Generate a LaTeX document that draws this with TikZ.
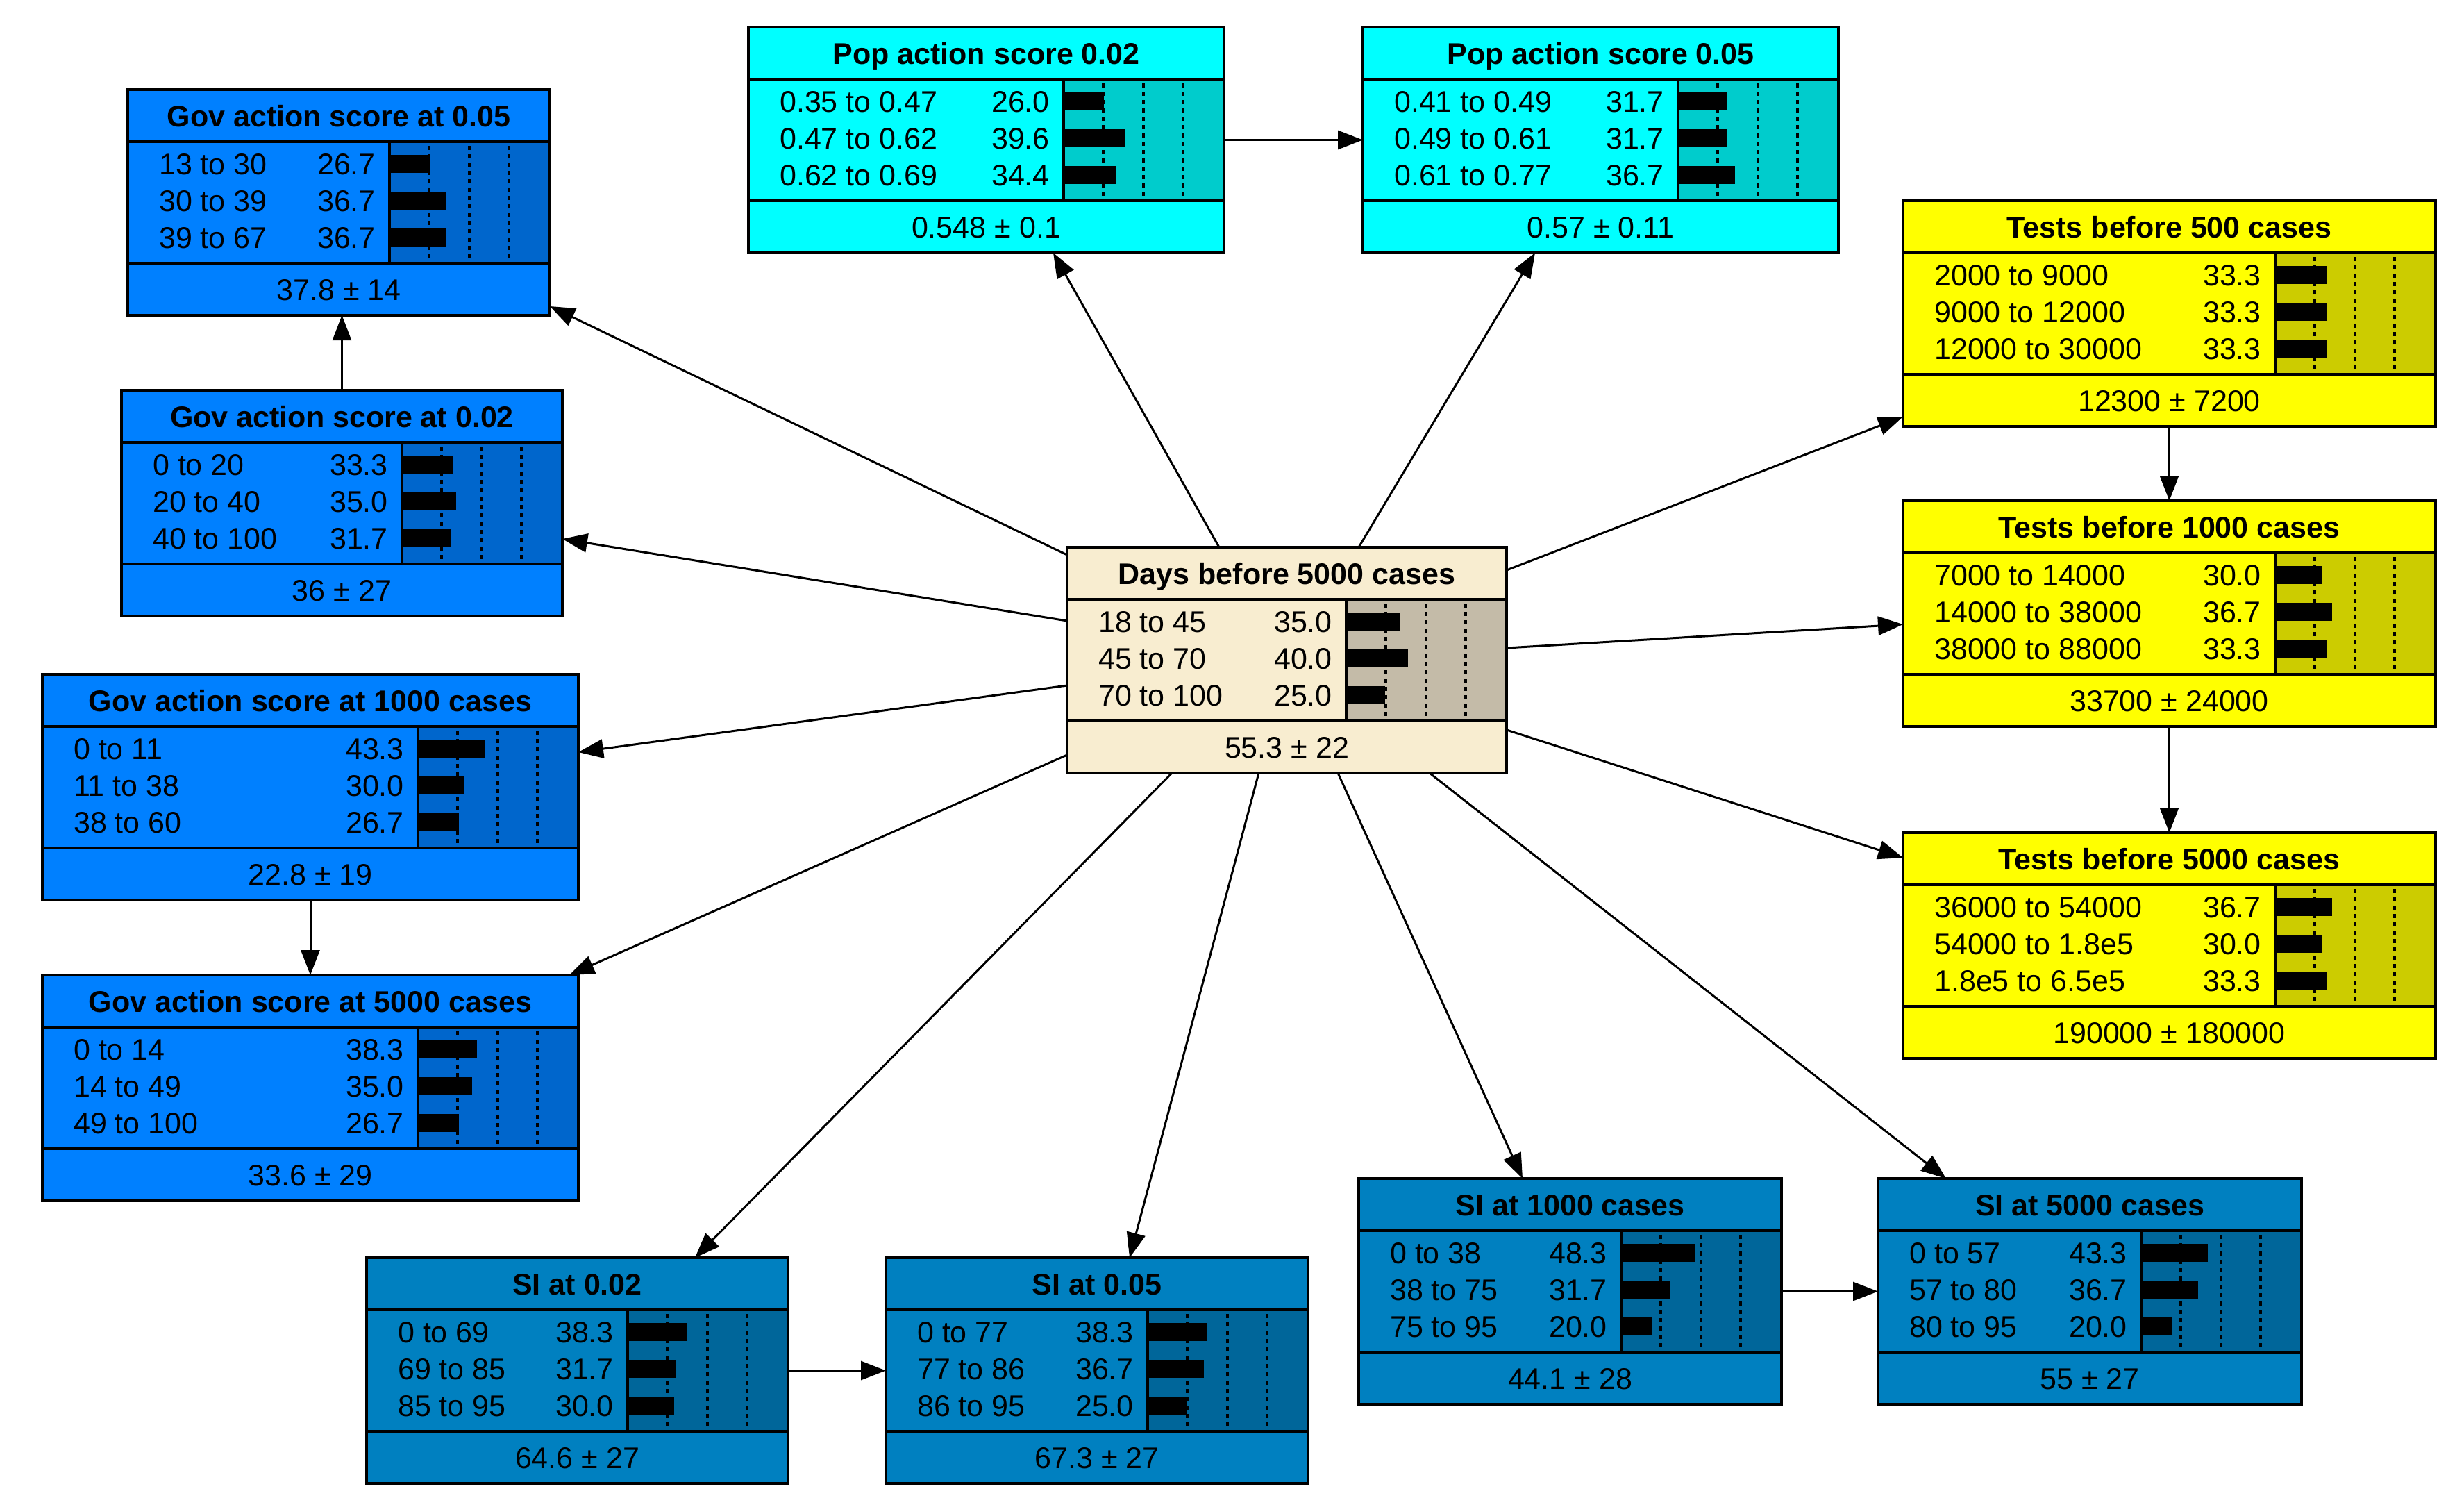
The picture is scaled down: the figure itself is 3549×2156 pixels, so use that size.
\documentclass[tikz,border=0pt]{standalone}
\usepackage{fontspec}
\setmainfont{Liberation Sans}
\usetikzlibrary{arrows.meta}
\definecolor{govA}{RGB}{0,128,255}\definecolor{govB}{RGB}{0,102,204}
\definecolor{popA}{RGB}{0,255,255}\definecolor{popB}{RGB}{0,204,204}
\definecolor{yelA}{RGB}{255,255,0}\definecolor{yelB}{RGB}{204,204,0}
\definecolor{siA}{RGB}{0,128,192}\definecolor{siB}{RGB}{0,102,154}
\definecolor{cenA}{RGB}{248,237,208}\definecolor{cenB}{RGB}{196,187,168}
\tikzset{
 txt/.style={inner sep=0pt,font=\fontsize{43}{48}\selectfont,text height=31pt,text depth=0pt},
 ttl/.style={txt,font=\fontsize{43}{48}\selectfont\bfseries},
 bdr/.style={line width=4pt},
 dots/.style={line width=4pt,dash pattern=on 6pt off 6pt},
 arr/.style={line width=3pt,-{Triangle[length=36pt,width=27pt]}}
}
\newcommand\bnode[8]{%
 \pgfmathsetmacro\xa{#2}\pgfmathsetmacro\ya{#3}\pgfmathsetmacro\xb{#4}%
 \pgfmathsetmacro\xc{\xb-231}\pgfmathsetmacro\yt{\ya+75}\pgfmathsetmacro\yf{\ya+250}\pgfmathsetmacro\yb{\ya+325}%
 \fill[#5] (\xa,\ya) rectangle (\xb,\yb);
 \fill[#6] (\xc,\yt) rectangle (\xb,\yf);
 \node[ttl] at ({(\xa+\xb)/2},\ya+38) {#7};
 \node[txt] at ({(\xa+\xb)/2},\yf+38) {#8};
 \draw[bdr] (\xa,\yt)--(\xb,\yt) (\xa,\yf)--(\xb,\yf) (\xc,\yt)--(\xc,\yf);
 \foreach \dx in {57,115,172} \draw[dots] (\xc+\dx,\yt+6)--(\xc+\dx,\yf-6);
 \node[draw,line width=4pt,minimum width={\xb-\xa},minimum height=325,inner sep=0pt,outer sep=0pt,anchor=north west] (#1) at (\xa,\ya) {};
}
\newcommand\brows[1]{\foreach \r/\p [count=\i] in {#1}{%
 \pgfmathsetmacro\yy{\yt+32+53*(\i-1)}%
 \node[txt,anchor=west] at (\xa+45,\yy) {\r};
 \node[txt,anchor=east] at (\xc-20,\yy) {\p};
 \fill (\xc,\yy-13) rectangle (\xc+2.22*\p,\yy+13);}}
\begin{document}
\begin{tikzpicture}[x=1pt,y=-1pt]
\fill[white] (0,0) rectangle (3549,2156);
\useasboundingbox (0,0) rectangle (3549,2156);
\bnode{G05}{184}{129}{792}{govA}{govB}{Gov action score at 0.05}{37.8 ± 14}
\brows{13 to 30/26.7,30 to 39/36.7,39 to 67/36.7}
\bnode{G02}{175}{562}{810}{govA}{govB}{Gov action score at 0.02}{36 ± 27}
\brows{0 to 20/33.3,20 to 40/35.0,40 to 100/31.7}
\bnode{G1k}{61}{971}{833}{govA}{govB}{Gov action score at 1000 cases}{22.8 ± 19}
\brows{0 to 11/43.3,11 to 38/30.0,38 to 60/26.7}
\bnode{G5k}{61}{1404}{833}{govA}{govB}{Gov action score at 5000 cases}{33.6 ± 29}
\brows{0 to 14/38.3,14 to 49/35.0,49 to 100/26.7}
\bnode{P02}{1078}{39}{1763}{popA}{popB}{Pop action score 0.02}{0.548 ± 0.1}
\brows{0.35 to 0.47/26.0,0.47 to 0.62/39.6,0.62 to 0.69/34.4}
\bnode{P05}{1963}{39}{2648}{popA}{popB}{Pop action score 0.05}{0.57 ± 0.11}
\brows{0.41 to 0.49/31.7,0.49 to 0.61/31.7,0.61 to 0.77/36.7}
\bnode{T500}{2741}{289}{3508}{yelA}{yelB}{Tests before 500 cases}{12300 ± 7200}
\brows{2000 to 9000/33.3,9000 to 12000/33.3,12000 to 30000/33.3}
\bnode{T1k}{2741}{721}{3508}{yelA}{yelB}{Tests before 1000 cases}{33700 ± 24000}
\brows{7000 to 14000/30.0,14000 to 38000/36.7,38000 to 88000/33.3}
\bnode{T5k}{2741}{1199}{3508}{yelA}{yelB}{Tests before 5000 cases}{190000 ± 180000}
\brows{36000 to 54000/36.7,54000 to 1.8e5/30.0,1.8e5 to 6.5e5/33.3}
\bnode{C}{1537}{788}{2170}{cenA}{cenB}{Days before 5000 cases}{55.3 ± 22}
\brows{18 to 45/35.0,45 to 70/40.0,70 to 100/25.0}
\bnode{S02}{528}{1811}{1135}{siA}{siB}{SI at 0.02}{64.6 ± 27}
\brows{0 to 69/38.3,69 to 85/31.7,85 to 95/30.0}
\bnode{S05}{1276}{1811}{1884}{siA}{siB}{SI at 0.05}{67.3 ± 27}
\brows{0 to 77/38.3,77 to 86/36.7,86 to 95/25.0}
\bnode{S1k}{1957}{1697}{2566}{siA}{siB}{SI at 1000 cases}{44.1 ± 28}
\brows{0 to 38/48.3,38 to 75/31.7,75 to 95/20.0}
\bnode{S5k}{2705}{1697}{3315}{siA}{siB}{SI at 5000 cases}{55 ± 27}
\brows{0 to 57/43.3,57 to 80/36.7,80 to 95/20.0}
% edges from center
\draw[arr] (C.west |- 0,799) -- (G05.east |- 0,441);
\draw[arr] (C.west |- 0,894) -- (G02.east |- 0,776);
\draw[arr] (C.west |- 0,987) -- (G1k.east |- 0,1083);
\draw[arr] (C.west |- 0,1087) -- (G5k.north -| 820,0);
\draw[arr] (C.south -| 1688,0) -- (S02.north -| 1001,0);
\draw[arr] (C.south -| 1813,0) -- (S05.north -| 1627,0);
\draw[arr] (C.south -| 1927,0) -- (S1k.north -| 2193,0);
\draw[arr] (C.south -| 2059,0) -- (S5k.north -| 2803,0);
\draw[arr] (C.east |- 0,1051) -- (T5k.west |- 0,1235);
\draw[arr] (C.east |- 0,933) -- (T1k.west |- 0,899);
\draw[arr] (C.east |- 0,821) -- (T500.west |- 0,600);
\draw[arr] (C.north -| 1957,0) -- (P05.south -| 2211,0);
\draw[arr] (C.north -| 1756,0) -- (P02.south -| 1517,0);
% other edges
\draw[arr] (G02.north) -- (G02.north |- G05.south);
\draw[arr] (G1k.south) -- (G5k.north);
\draw[arr] (P02.east) -- (P05.west);
\draw[arr] (T500.south) -- (T1k.north);
\draw[arr] (T1k.south) -- (T5k.north);
\draw[arr] (S02.east) -- (S05.west);
\draw[arr] (S1k.east) -- (S5k.west);
\end{tikzpicture}
\end{document}
